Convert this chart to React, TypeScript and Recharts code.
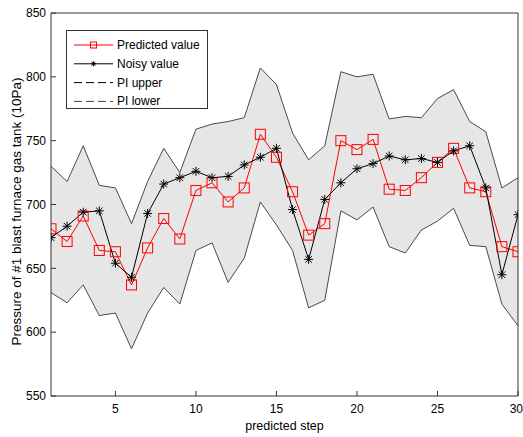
import React from 'react';
import { ComposedChart, Area, Line, XAxis, YAxis } from 'recharts';

const STEPS = [1, 2, 3, 4, 5, 6, 7, 8, 9, 10, 11, 12, 13, 14, 15, 16, 17, 18, 19, 20, 21, 22, 23, 24, 25, 26, 27, 28, 29, 30];
const PREDICTED = [681, 671, 691, 664, 663, 637, 666, 689, 673, 711, 717, 702, 713, 755, 737, 710, 676, 685, 750, 743, 751, 712, 711, 721, 733, 744, 713, 710, 667, 663];
const NOISY = [674, 683, 694, 695, 654, 643, 693, 716, 721, 726, 721, 722, 731, 737, 744, 696, 657, 704, 717, 728, 732, 738, 735, 736, 733, 742, 746, 713, 645, 692];
const PI_UPPER = [730, 718, 746, 715, 713, 685, 718, 744, 725, 759, 763, 765, 768, 807, 794, 756, 735, 746, 804, 800, 802, 767, 769, 768, 783, 790, 765, 757, 713, 721];
const PI_LOWER = [631, 623, 637, 613, 615, 587, 615, 635, 622, 664, 670, 639, 658, 702, 684, 664, 619, 625, 695, 688, 698, 667, 662, 680, 687, 697, 668, 667, 622, 605];

const X_TICKS = [5, 10, 15, 20, 25, 30];
const Y_TICKS = [550, 600, 650, 700, 750, 800, 850];

const FONT = '"Liberation Sans", Arial, sans-serif';
const AXIS = '#333';

const data = STEPS.map((step, i) => ({
  step,
  predicted: PREDICTED[i],
  noisy: NOISY[i],
  upper: PI_UPPER[i],
  lower: PI_LOWER[i],
  band: [PI_LOWER[i], PI_UPPER[i]],
}));

function SquareDot(props: any) {
  const { cx, cy, index } = props;
  if (cx == null || cy == null) return <g key={`sq-${index}`} />;
  return <rect key={`sq-${index}`} x={cx - 5} y={cy - 5} width={10} height={10} fill="none" stroke="#ff0000" strokeWidth={1} />;
}

function Star({ cx, cy, r, color }: { cx: number; cy: number; r: number; color: string }) {
  const d = r * 0.72;
  return (
    <g stroke={color} strokeWidth={1}>
      <line x1={cx - r} y1={cy} x2={cx + r} y2={cy} />
      <line x1={cx} y1={cy - r} x2={cx} y2={cy + r} />
      <line x1={cx - d} y1={cy - d} x2={cx + d} y2={cy + d} />
      <line x1={cx - d} y1={cy + d} x2={cx + d} y2={cy - d} />
    </g>
  );
}

function StarDot(props: any) {
  const { cx, cy, index } = props;
  if (cx == null || cy == null) return <g key={`st-${index}`} />;
  return (
    <g key={`st-${index}`}>
      <Star cx={cx} cy={cy} r={4.5} color="#000" />
    </g>
  );
}

function XTick(props: any) {
  const { x, y, payload } = props;
  const last = payload.value === X_TICKS[X_TICKS.length - 1];
  return (
    <text x={last ? x + 5 : x} y={y} dy="0.71em" textAnchor={last ? 'end' : 'middle'} fill="#000" fontSize={12} fontFamily={FONT}>
      {payload.value}
    </text>
  );
}

function ChartLegend() {
  const rows = [
    { label: 'Predicted value', kind: 'pred' },
    { label: 'Noisy value', kind: 'noisy' },
    { label: 'PI upper', kind: 'upper' },
    { label: 'PI lower', kind: 'lower' },
  ];
  return (
    <div
      style={{
        position: 'absolute',
        left: 66,
        top: 30,
        width: 140,
        height: 77,
        border: `1px solid ${AXIS}`,
        background: '#fff',
        fontFamily: FONT,
        fontSize: 12,
      }}
    >
      <svg width={140} height={77}>
        {rows.map((r, i) => {
          const y = 14 + i * 18.8;
          return (
            <g key={r.kind}>
              {r.kind === 'pred' && (
                <g>
                  <line x1={7} y1={y} x2={46} y2={y} stroke="#ff0000" />
                  <rect x={23.5} y={y - 3} width={6} height={6} fill="none" stroke="#ff0000" />
                </g>
              )}
              {r.kind === 'noisy' && (
                <g>
                  <line x1={7} y1={y} x2={46} y2={y} stroke="#000" />
                  <Star cx={26.5} cy={y} r={2.5} color="#000" />
                </g>
              )}
              {r.kind === 'upper' && <line x1={7} y1={y} x2={46} y2={y} stroke="#000" strokeDasharray="8 4" />}
              {r.kind === 'lower' && <line x1={7} y1={y} x2={46} y2={y} stroke="#444" strokeDasharray="8 4" />}
              <text x={50} y={y + 4} fill="#000" fontSize={12} fontFamily={FONT}>
                {r.label}
              </text>
            </g>
          );
        })}
      </svg>
    </div>
  );
}

export default function App() {
  return (
    <div style={{ position: 'absolute', left: 0, top: 0, width: 523, height: 437, fontFamily: FONT }}>
      <ComposedChart width={523} height={437} data={data} margin={{ top: 12, right: 4, bottom: 0, left: 0 }}>
        <XAxis
          dataKey="step"
          type="number"
          domain={[1, 30]}
          ticks={X_TICKS}
          interval={0}
          height={41}
          stroke={AXIS}
          tickSize={-5}
          tickMargin={13}
          tick={<XTick />}
          allowDataOverflow
          label={(p: any) => {
            const vb = p.viewBox;
            return (
              <text x={vb.x + vb.width / 2} y={vb.y + 34} textAnchor="middle" fill="#000" fontSize={12.5} fontFamily={FONT}>
                predicted step
              </text>
            );
          }}
        />
        <XAxis
          xAxisId="top"
          orientation="top"
          type="number"
          dataKey="step"
          domain={[1, 30]}
          ticks={X_TICKS}
          interval={0}
          height={1}
          stroke={AXIS}
          tickSize={-5}
          tick={false}
          allowDataOverflow
        />
        <YAxis
          type="number"
          domain={[550, 850]}
          ticks={Y_TICKS}
          interval={0}
          width={51}
          stroke={AXIS}
          tickSize={-5}
          tickMargin={10}
          tick={{ fill: '#000', fontSize: 12, fontFamily: FONT }}
          allowDataOverflow
          label={(p: any) => {
            const vb = p.viewBox;
            const cy = vb.y + vb.height / 2 + 7;
            return (
              <text x={21} y={cy} transform={`rotate(-90, 21, ${cy})`} textAnchor="middle" fill="#000" fontSize={13.5} fontFamily={FONT}>
                Pressure of #1 blast furnace gas tank (10Pa)
              </text>
            );
          }}
        />
        <YAxis
          yAxisId="right"
          orientation="right"
          type="number"
          domain={[550, 850]}
          ticks={Y_TICKS}
          interval={0}
          width={1}
          stroke={AXIS}
          tickSize={-5}
          tick={false}
          allowDataOverflow
        />
        <Area xAxisId="top" yAxisId="right" type="linear" dataKey="band" fill="#e6e6e6" fillOpacity={1} stroke="none" dot={false} activeDot={false} isAnimationActive={false} />
        <Line type="linear" dataKey="upper" stroke="#4a4a4a" strokeWidth={1} dot={false} activeDot={false} isAnimationActive={false} />
        <Line type="linear" dataKey="lower" stroke="#4a4a4a" strokeWidth={1} dot={false} activeDot={false} isAnimationActive={false} />
        <Line type="linear" dataKey="predicted" stroke="#ff0000" strokeWidth={1} dot={SquareDot} activeDot={false} isAnimationActive={false} />
        <Line type="linear" dataKey="noisy" stroke="#000" strokeWidth={1} dot={StarDot} activeDot={false} isAnimationActive={false} />
      </ComposedChart>
      <ChartLegend />
    </div>
  );
}
